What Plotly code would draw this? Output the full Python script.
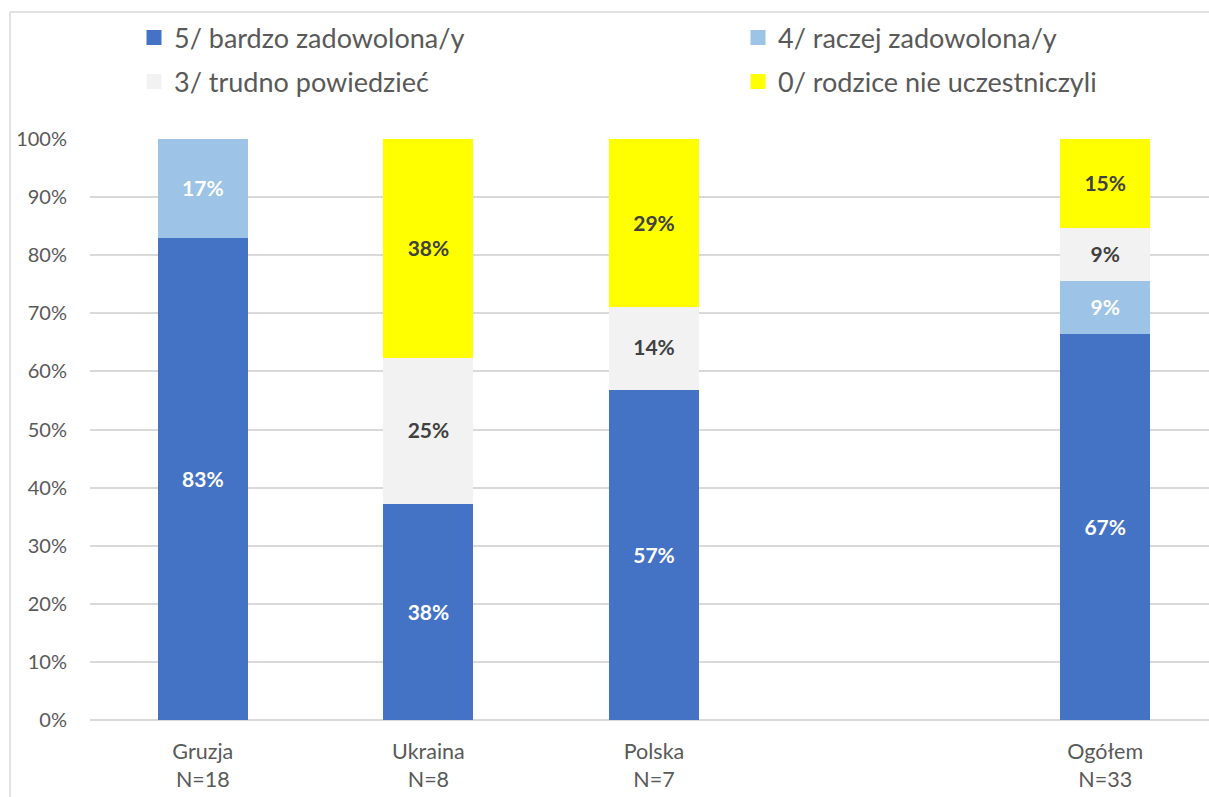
import plotly.graph_objects as go

# ---- data ----
categories = ["Gruzja<br>N=18", "Ukraina<br>N=8", "Polska<br>N=7", " ", "Ogółem<br>N=33"]
series_names = ["5/ bardzo zadowolona/y", "4/ raczej zadowolona/y",
                "3/ trudno powiedzieć", "0/ rodzice nie uczestniczyli"]
v5 = [83.3, 37.5, 57.1, None, 66.7]
v4 = [16.7, None, None, None, 9.1]
v3 = [None, 25.0, 14.3, None, 9.1]
v0 = [None, 37.5, 28.6, None, 15.1]
y_ticks = [0, 10, 20, 30, 40, 50, 60, 70, 80, 90, 100]

colors = ["#4472C4", "#9DC3E6", "#F2F2F2", "#FFFF00"]
label_colors = ["#FFFFFF", "#FFFFFF", "#404040", "#404040"]

W, H = 1209, 797
ML, MR, MT, MB = 90, 0, 139, 77
PW, PH = W - ML - MR, H - MT - MB

def px2x(px):
    return (px - ML) / PW

def px2y(py):
    return (H - MB - py) / PH

FONT = "Lato"
GREY = "#595959"
LINE_W = 3

fig = go.Figure()
legend_ids = ["legend", "legend2", "legend3", "legend4"]
for name, vals, c, lc, lid in zip(series_names, [v5, v4, v3, v0], colors, label_colors, legend_ids):
    texts = [("" if v is None else f"{v:.0f}%") for v in vals]
    fig.add_trace(go.Bar(
        x=categories, y=vals, name=name, legend=lid,
        marker=dict(color=c, line=dict(width=LINE_W, color=c)),
        width=0.386,
        text=texts, textposition="inside", insidetextanchor="middle",
        textangle=0,
        insidetextfont=dict(family=FONT, size=21, color=lc, weight="bold"),
        hoverinfo="skip",
    ))

# legend positions (pixel anchors of each entry)
leg_pos = [(134, 38), (738, 38), (134, 82), (738, 82)]
leg_common = dict(xanchor="left", yanchor="middle", bgcolor="rgba(0,0,0,0)",
                  font=dict(family=FONT, size=27, color=GREY), itemwidth=30,
                  itemclick=False, itemdoubleclick=False)
layout_legends = {}
for lid, (lx, ly) in zip(legend_ids, leg_pos):
    layout_legends[lid] = dict(x=px2x(lx), y=px2y(ly), **leg_common)

# chart border (top and left visible edges)
border_col = "#D9D9D9"
shapes = [
    dict(type="line", xref="paper", yref="paper", x0=px2x(10), x1=px2x(10),
         y0=px2y(H + 5), y1=px2y(12), line=dict(color=border_col, width=1.5)),
    dict(type="line", xref="paper", yref="paper", x0=px2x(10), x1=px2x(W + 5),
         y0=px2y(12), y1=px2y(12), line=dict(color=border_col, width=1.5)),
]

fig.update_layout(
    width=W, height=H,
    margin=dict(l=ML, r=MR, t=MT, b=MB, pad=0),
    paper_bgcolor="white", plot_bgcolor="white",
    barmode="stack",
    showlegend=True,
    shapes=shapes,
    font=dict(family=FONT, color=GREY),
    **layout_legends,
)
fig.update_xaxes(
    type="category", categoryorder="array", categoryarray=categories,
    range=[-0.5, 4.46], showgrid=False, zeroline=False, showline=False,
    ticks="outside", ticklen=12, tickcolor="rgba(0,0,0,0)",
    tickfont=dict(family=FONT, size=21.5, color=GREY),
    fixedrange=True,
)
fig.update_yaxes(
    range=[0, 100], tickvals=y_ticks, ticktext=[f"{t}%" for t in y_ticks],
    showgrid=True, gridcolor="#D9D9D9", gridwidth=1.5,
    zeroline=True, zerolinecolor="#D9D9D9", zerolinewidth=1.5,
    showline=False, ticks="", ticklabelstandoff=22,
    tickfont=dict(family=FONT, size=20, color=GREY),
    fixedrange=True,
)

fig.write_html("out.html", config={"displayModeBar": False, "staticPlot": False},
               post_script="document.body.style.margin='0';document.body.style.overflow='hidden';")
